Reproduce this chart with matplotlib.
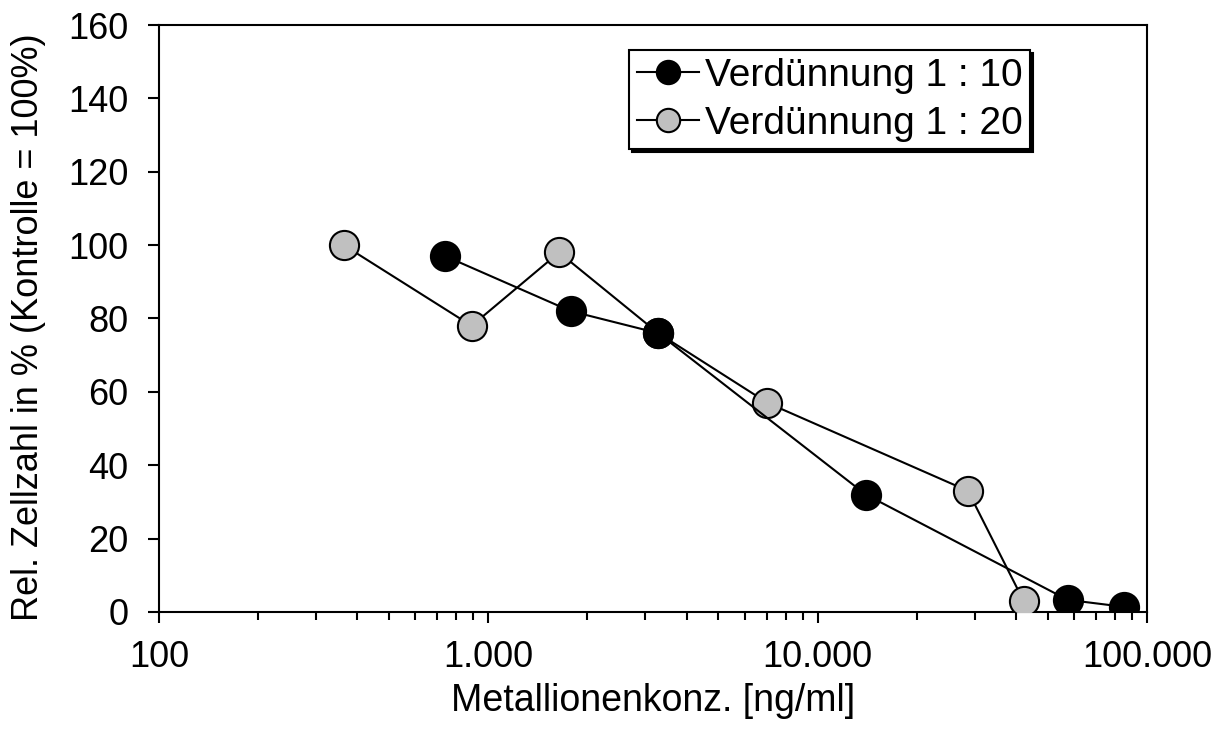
import matplotlib
matplotlib.use('Agg')
import matplotlib.pyplot as plt
from matplotlib.ticker import FixedLocator, FuncFormatter, LogLocator, NullFormatter

plt.rcParams['font.family'] = ['Liberation Sans', 'DejaVu Sans']

# Verdünnung 1 : 10
conc_10 = [740, 1780, 3280, 14000, 57400, 85000]
cells_10 = [97, 82, 76, 32, 3.3, 1.4]

# Verdünnung 1 : 20
conc_20 = [364, 890, 1640, 3280, 7040, 28600, 42200]
cells_20 = [100, 78, 98, 76, 57, 33, 3]

labels = ['Verdünnung 1 : 10', 'Verdünnung 1 : 20']

fig = plt.figure(figsize=(12.14, 7.49), dpi=100)
ax = fig.add_axes([0.1309, 0.183, 0.8139, 0.7836])

ax.plot(conc_20, cells_20, '-o', color='black', lw=1.5, ms=21,
        mfc='#c0c0c0', mec='black', mew=1.5, label=labels[1], zorder=3)
ax.plot(conc_10, cells_10, '-o', color='black', lw=1.5, ms=21,
        mfc='black', mec='black', mew=1.5, label=labels[0], zorder=4)

ax.set_xscale('log')
ax.set_xlim(100, 100000)
ax.set_ylim(0, 160)
ax.yaxis.set_major_locator(FixedLocator(range(0, 161, 20)))
ax.xaxis.set_major_locator(FixedLocator([100, 1000, 10000, 100000]))
ax.xaxis.set_major_formatter(FuncFormatter(lambda v, p: f'{v:,.0f}'.replace(',', '.')))
ax.xaxis.set_minor_locator(LogLocator(base=10, subs=range(2, 10)))
ax.xaxis.set_minor_formatter(NullFormatter())

for s in ax.spines.values():
    s.set_linewidth(1.5)
ax.tick_params(axis='y', direction='out', length=8, width=1.5, labelsize=26, pad=14)
ax.tick_params(axis='x', which='major', direction='out', length=8, width=1.5,
               labelsize=26, pad=12)
ax.tick_params(axis='x', which='minor', direction='out', length=5.5, width=1.5)

ax.set_xlabel('Metallionenkonz. [ng/ml]', fontsize=27, labelpad=6)
ax.set_ylabel('Rel. Zellzahl in % (Kontrolle = 100%)', fontsize=26)
ax.yaxis.set_label_coords(-0.114, 0.485)

handles, labs = ax.get_legend_handles_labels()
leg = ax.legend(handles[::-1], labs[::-1], loc='upper right',
                bbox_to_anchor=(0.882, 0.957), borderaxespad=0,
                fontsize=28, frameon=True, fancybox=False, edgecolor='black',
                shadow={'facecolor': 'black', 'edgecolor': 'black', 'alpha': 1},
                handlelength=1.6, handletextpad=0.15, borderpad=0.2,
                labelspacing=0.3, markerscale=0.8)
leg.get_frame().set_linewidth(1.5)

fig.savefig('out.png', dpi=100, facecolor='white')
